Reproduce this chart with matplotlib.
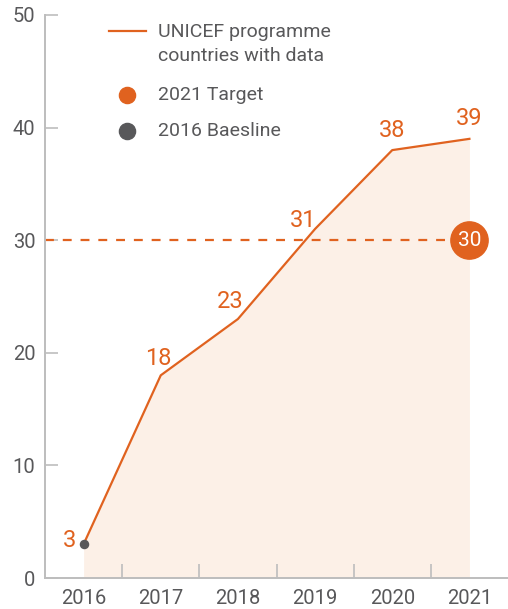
import matplotlib
matplotlib.use('Agg')
import matplotlib.pyplot as plt
from matplotlib.lines import Line2D
matplotlib.rcParams['font.family'] = ['Roboto', 'DejaVu Sans']

years = [2016, 2017, 2018, 2019, 2020, 2021]
countries = [3, 18, 23, 31, 38, 39]
target_year = 2021
target_value = 30
baseline_year = 2016
baseline_value = 3

orange = '#E0621F'
fill_col = '#FCF0E7'
grey = '#58585A'
axis_col = '#BDBDBD'

fig = plt.figure(figsize=(5.08, 6.09), dpi=100)
ax = fig.add_axes([0.0886, 0.0509, 0.9114, 0.9245])

ax.fill_between(years, countries, 0, color=fill_col, lw=0, zorder=1)
ax.plot(years, countries, color=orange, lw=1.6, zorder=3)
ax.plot([2015.5, target_year], [target_value, target_value], color=orange,
        lw=1.6, ls=(0, (4, 4)), zorder=2)
ax.scatter([target_year], [target_value], s=720, color=orange, zorder=5)
ax.text(target_year, target_value, str(target_value), color='white',
        ha='center', va='center', fontsize=15, zorder=6)
ax.scatter([baseline_year], [baseline_value], s=34, color=grey, zorder=5)

# value labels
offsets = [(-14, 4), (-3, 17), (-8, 18), (-12, 8), (0, 20), (0, 20)]
for x, y, off in zip(years, countries, offsets):
    ax.annotate(str(y), (x, y), xytext=off, textcoords='offset pixels',
                ha='center', va='center', color=orange, fontsize=17)

ax.set_xlim(2015.5, 2021.5)
ax.set_ylim(0, 50)
ax.set_yticks([0, 10, 20, 30, 40, 50])
ax.set_xticks(years)
ax.set_xticks([y + 0.5 for y in years[:-1]], minor=True)
ax.tick_params(axis='x', which='major', length=0, pad=8, labelsize=14.5,
               labelcolor=grey)
ax.tick_params(axis='x', which='minor', direction='in', length=10,
               color=axis_col, width=1.2)
ax.tick_params(axis='y', direction='in', length=9, color=axis_col, width=1.2,
               pad=7, labelsize=14.5, labelcolor=grey)
for s in ['top', 'right']:
    ax.spines[s].set_visible(False)
for s in ['left', 'bottom']:
    ax.spines[s].set_color(axis_col)
    ax.spines[s].set_linewidth(1.4)

# legend
ax.add_line(Line2D([0.138, 0.218], [0.9716, 0.9716], transform=ax.transAxes,
                   color=orange, lw=1.6))
ax.text(0.245, 0.970, 'UNICEF programme', transform=ax.transAxes,
        ha='left', va='center', fontsize=14, color=grey)
ax.text(0.245, 0.9275, 'countries with data', transform=ax.transAxes,
        ha='left', va='center', fontsize=14, color=grey)
ax.scatter([0.177], [0.858], s=135, color=orange, transform=ax.transAxes,
           clip_on=False)
ax.text(0.245, 0.858, '2021 Target', transform=ax.transAxes, ha='left',
        va='center', fontsize=14, color=grey)
ax.scatter([0.177], [0.794], s=135, color=grey, transform=ax.transAxes,
           clip_on=False)
ax.text(0.245, 0.794, '2016 Baesline', transform=ax.transAxes, ha='left',
        va='center', fontsize=14, color=grey)

plt.savefig('out.png', dpi=100)
